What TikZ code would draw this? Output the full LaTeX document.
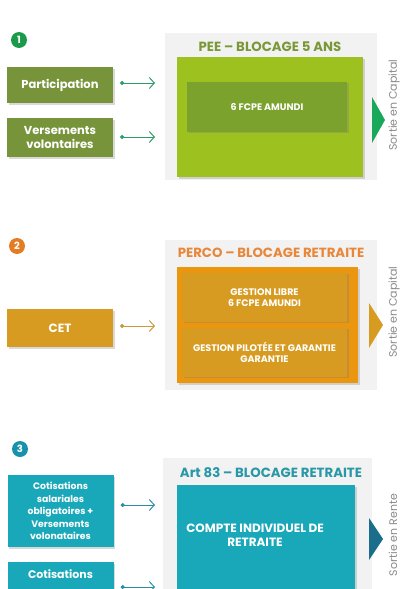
\documentclass[tikz,border=0pt]{standalone}
\usepackage{fontspec}
\setmainfont{Poppins}
\usetikzlibrary{arrows.meta,shadows}
\definecolor{panelgray}{HTML}{F2F2F2}
\definecolor{peedark}{HTML}{77943A}
\definecolor{peelight}{HTML}{9DC11F}
\definecolor{peemid}{HTML}{7CA22E}
\definecolor{peearrow}{HTML}{2E9C6A}
\definecolor{peetri}{HTML}{19A85A}
\definecolor{peecirc}{HTML}{1B9A4B}
\definecolor{percobox}{HTML}{D79B21}
\definecolor{percolight}{HTML}{EA960E}
\definecolor{percotitle}{HTML}{E8873A}
\definecolor{percoarrow}{HTML}{C99A3C}
\definecolor{percocirc}{HTML}{E47C24}
\definecolor{artbox}{HTML}{18A8B9}
\definecolor{arttitle}{HTML}{2898A8}
\definecolor{artarrow}{HTML}{2A8EA2}
\definecolor{arttri}{HTML}{1A6E8C}
\definecolor{artcirc}{HTML}{1891AB}
\definecolor{sortiegray}{HTML}{8A8A8A}

\begin{document}
\begin{tikzpicture}
    [x=1pt,y=-1pt,
    num/.style={circle,inner sep=0pt,minimum size=16pt,text=white,font=\bfseries\fontsize{10}{12}\selectfont},
    src/.style={inner sep=2pt,minimum width=106pt,text=white,align=center,font=\bfseries\fontsize{11.5}{14}\selectfont,
      drop shadow={opacity=0.3,shadow xshift=1.5pt,shadow yshift=-1.5pt}},
    panel/.style={fill=panelgray,draw=none},
    plan/.style={inner sep=0pt,drop shadow={opacity=0.3,shadow xshift=1.5pt,shadow yshift=-1.5pt}},
    fund/.style={inner sep=2pt,minimum width=165pt,text=white,align=center,font=\bfseries\fontsize{9.5}{11.5}\selectfont,
      drop shadow={opacity=0.35,shadow xshift=1.5pt,shadow yshift=-1pt}},
    title/.style={font=\bfseries\fontsize{13.3}{16}\selectfont},
    sortie/.style={rotate=90,text=sortiegray,font=\fontsize{11}{13}\selectfont},
    flow/.style={line width=1pt,{Circle[length=4pt]}-{Straight Barb[length=5pt,width=11pt,line width=1pt]}}]
    \useasboundingbox (0,0) rectangle (401,589);

    % 1
    \node[num,fill=peecirc] (c1) at (19,40) {1};
    \node[src,fill=peedark,minimum height=36pt] (part) at (60,85) {Participation};
    \node[src,fill=peedark,minimum height=39pt] (vers) at (60,137.5) {Versements\\volontaires};
    \fill[panel] (165,33) rectangle (377,180);
    \node[title,text=peedark!90!peelight] (pee) at (270,47) {PEE – BLOCAGE 5 ANS};
    \node[plan,fill=peelight,minimum width=186pt,minimum height=120pt] (peebox) at (270,117) {};
    \node[fund,fill=peemid,minimum height=50pt,minimum width=160pt] (fcpe) at (267,107) {6 FCPE AMUNDI};
    \coordinate (in1) at (155,83);
    \coordinate (in2) at (155,137);
    \draw[flow,peearrow] ([xshift=7]part.east |- in1) -- (in1);
    \draw[flow,peearrow] ([xshift=7]vers.east |- in2) -- (in2);
    \fill[peetri] (372,97) -- (385,120) -- (372,143) -- cycle;
    \node[sortie] (s1) at (394,105) {Sortie en Capital};

    % 2
    \node[num,fill=percocirc] (c2) at (17,246) {2};
    \node[src,fill=percobox,minimum height=38pt,font=\bfseries\fontsize{12}{14}\selectfont] (cet) at (60,328) {CET};
    \fill[panel] (165,240) rectangle (377,390);
    \node[title,text=percotitle] (perco) at (271,253) {PERCO – BLOCAGE RETRAITE};
    \node[plan,fill=percolight,minimum width=181pt,minimum height=116pt] (percobox) at (267.5,325) {};
    \node[fund,fill=percobox,minimum height=49pt] (libre) at (264.5,297.5) {GESTION LIBRE\\6 FCPE AMUNDI};
    \node[fund,fill=percobox,minimum height=49pt] (pilot) at (264.5,352.5) {GESTION PILOTÉE ET GARANTIE\\GARANTIE};
    \coordinate (in3) at (155,326);
    \draw[flow,percoarrow] ([xshift=7]cet.east |- in3) -- (in3);
    \fill[percobox] (369,303) -- (383,325) -- (369,348) -- cycle;
    \node[sortie] (s2) at (394,312) {Sortie en Capital};

    % 3
    \node[num,fill=artcirc] (c3) at (20,449) {3};
    \node[src,fill=artbox,minimum height=72pt,font=\bfseries\fontsize{9.3}{12.5}\selectfont] (cota) at (60.5,511)
      {Cotisations\\salariales\\obligatoires +\\Versements\\volonataires};
    \node[src,fill=artbox,minimum height=60pt,anchor=north,font=\bfseries\fontsize{11}{14}\selectfont] (cotb) at (60.5,562) {Cotisations\\[22pt]};
    \fill[panel] (163,458) rectangle (372,600);
    \node[title,text=arttitle] (art) at (271,473) {Art 83 – BLOCAGE RETRAITE};
    \node[plan,fill=artbox,minimum width=178pt,minimum height=130pt,anchor=north] (artbox) at (266,485) {};
    \node[text=white,font=\bfseries\fontsize{12}{14}\selectfont,align=center] (cir) at (255,535) {COMPTE INDIVIDUEL DE\\RETRAITE};
    \coordinate (in4) at (155,505);
    \coordinate (in5) at (155,587);
    \draw[flow,artarrow] ([xshift=7]cota.east |- in4) -- (in4);
    \draw[flow,artarrow] ([xshift=7]cotb.east |- in5) -- (in5);
    \fill[arttri] (369,518) -- (383,539) -- (369,560) -- cycle;
    \node[sortie] (s3) at (393,535) {Sortie en Rente};
  \end{tikzpicture}
\end{document}
